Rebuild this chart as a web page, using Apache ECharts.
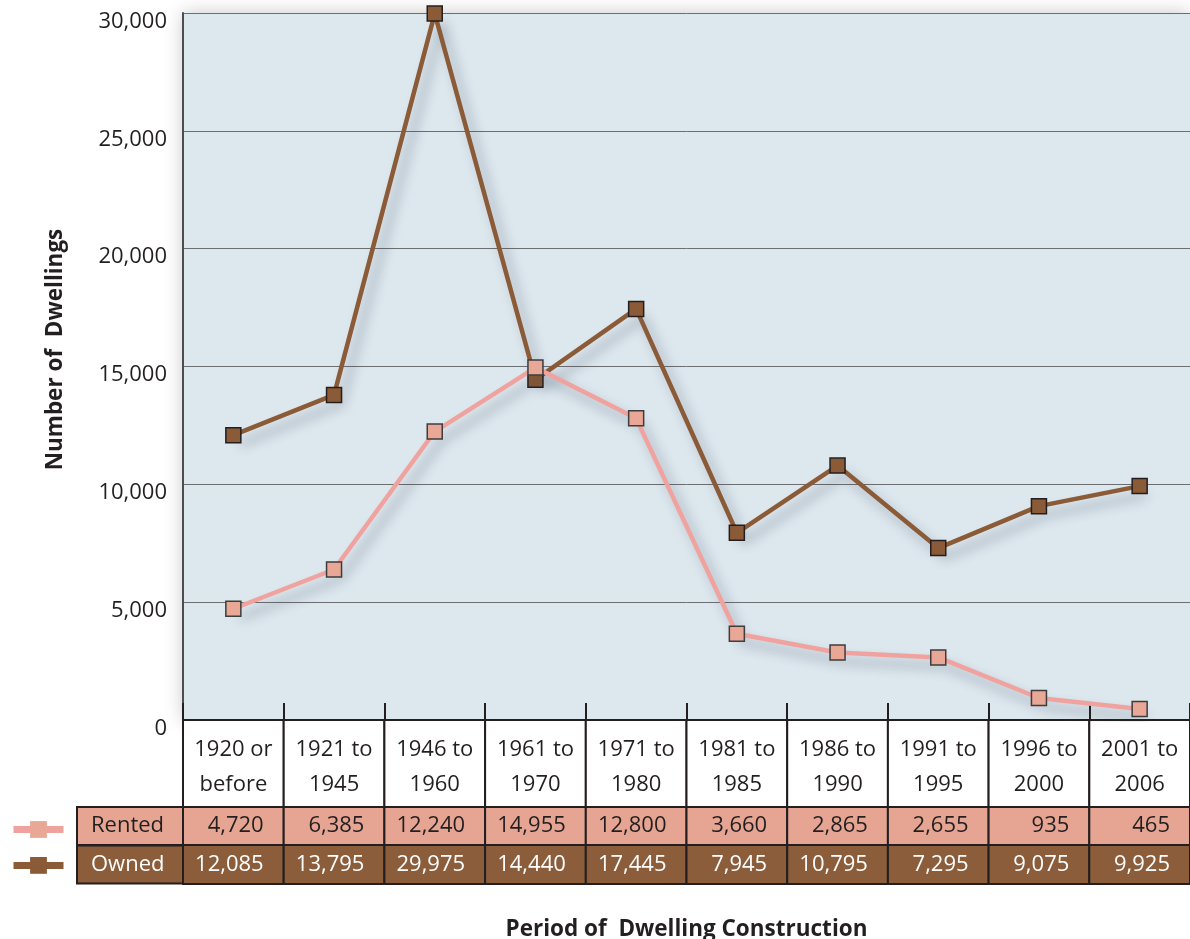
<!DOCTYPE html>
<html><head><meta charset="utf-8">
<script src="https://cdn.jsdelivr.net/npm/echarts@6/dist/echarts.min.js"></script>
<style>html,body{margin:0;padding:0;background:#fff}#c{width:1190px;height:939px}</style>
</head><body><div id="c"></div>
<script>
const categories = ['1920 or\nbefore','1921 to\n1945','1946 to\n1960','1961 to\n1970','1971 to\n1980','1981 to\n1985','1986 to\n1990','1991 to\n1995','1996 to\n2000','2001 to\n2006'];
const rented = [4720, 6385, 12240, 14955, 12800, 3660, 2865, 2655, 935, 465];
const owned = [12085, 13795, 29975, 14440, 17445, 7945, 10795, 7295, 9075, 9925];
const rowLabels = ['Rented', 'Owned'];
const yMin = 0, yMax = 30000, yInterval = 5000;

const FONT = "'Open Sans', sans-serif";
const DARK = '#231f20';
const C_OWN = '#8b5a37';
const C_OWN_ROW = '#8b5d3b';
const C_RENT_LINE = '#f0a39e';
const C_RENT_MARK = '#e9a796';
const C_RENT_ROW = '#e6a593';
const fmt = v => Number(v).toLocaleString('en-US');

function cellRenderer(fill, textColor, isHeader) {
  return function (params, api) {
    const i = api.value(0);
    const c = api.coord([i, 0]);
    const bw = api.size([1, 0])[0];
    const cs = params.coordSys;
    const x0 = c[0] - bw / 2;
    const children = [{
      type: 'rect',
      shape: { x: x0, y: cs.y, width: bw, height: cs.height },
      style: { fill: fill, stroke: DARK, lineWidth: 2 }
    }];
    if (isHeader) {
      children.push({
        type: 'text', x: c[0], y: cs.y + cs.height / 2 + 4,
        style: { text: categories[i], fill: textColor, font: '22px ' + FONT, align: 'center', verticalAlign: 'middle', lineHeight: 35 }
      });
    } else {
      children.push({
        type: 'text', x: x0 + bw - 20, y: cs.y + cs.height / 2,
        style: { text: fmt(api.value(2)), fill: textColor, font: '22px ' + FONT, align: 'right', verticalAlign: 'middle' }
      });
    }
    return { type: 'group', children: children };
  };
}

const lineShadow = { shadowColor: 'rgba(30,50,70,0.35)', shadowBlur: 12, shadowOffsetX: 7, shadowOffsetY: 9 };

const rowLabelStyle = (bg, color) => ({
  margin: 105, align: 'left', verticalAlign: 'middle', padding: [0, 0, 0, 13],
  width: 92, height: 36, lineHeight: 36, backgroundColor: bg, borderColor: DARK, borderWidth: 2,
  fontSize: 22, fontFamily: FONT, color: color
});

const gridBase = { left: 183, right: 0, outerBoundsMode: 'none', containLabel: false };

const chart = echarts.init(document.getElementById('c'));
chart.setOption({
  animation: false,
  textStyle: { fontFamily: FONT },
  grid: [
    Object.assign({}, gridBase, { top: 13, height: 707, show: true, backgroundColor: '#dde7ee', borderWidth: 0, shadowBlur: 18, shadowColor: 'rgba(0,0,0,0.22)' }),
    Object.assign({}, gridBase, { top: 720, height: 87 }),
    Object.assign({}, gridBase, { top: 807, height: 38 }),
    Object.assign({}, gridBase, { top: 845, height: 39 })
  ],
  legend: {
    data: rowLabels, orient: 'vertical', left: 10, top: 819, padding: 0, itemWidth: 50, itemHeight: 21, itemGap: 17,
    selectedMode: false, formatter: () => '', textStyle: { fontSize: 1 },
    itemStyle: { borderWidth: 0, shadowBlur: 0, shadowColor: 'rgba(0,0,0,0)' },
    lineStyle: { width: 7, shadowBlur: 0, shadowColor: 'rgba(0,0,0,0)' }
  },
  xAxis: [
    {
      gridIndex: 0, type: 'category', data: categories, boundaryGap: true,
      axisLine: { lineStyle: { color: DARK, width: 2 } },
      axisTick: { show: true, inside: true, length: 17, interval: 0, lineStyle: { color: DARK, width: 2 } },
      axisLabel: { show: false }, splitLine: { show: false },
      name: 'Period of  Dwelling Construction', nameLocation: 'middle', nameGap: 198,
      nameTextStyle: { fontWeight: 'bold', fontSize: 22.5, color: DARK, fontFamily: FONT }
    },
    { gridIndex: 1, type: 'category', data: categories, show: false },
    { gridIndex: 2, type: 'category', data: categories, show: false },
    { gridIndex: 3, type: 'category', data: categories, show: false }
  ],
  yAxis: [
    {
      gridIndex: 0, type: 'value', min: yMin, max: yMax, interval: yInterval,
      axisLine: { show: true, lineStyle: { color: '#4d4d4f', width: 2 } },
      axisTick: { show: false },
      splitLine: { show: true, lineStyle: { color: '#6d6e71', width: 1 } },
      axisLabel: { formatter: fmt, fontSize: 22, color: DARK, margin: 16, verticalAlign: 'top', lineHeight: 17, fontFamily: FONT },
      name: 'Number of  Dwellings', nameLocation: 'middle', nameGap: 116, nameRotate: 90,
      nameTextStyle: { fontWeight: 'bold', fontSize: 22.5, color: DARK, fontFamily: FONT, padding: [0, 0, 0, 34] }
    },
    { gridIndex: 1, type: 'category', data: [''], show: false },
    { gridIndex: 2, type: 'category', data: [rowLabels[0]], axisLine: { show: false }, axisTick: { show: false }, axisLabel: rowLabelStyle(C_RENT_ROW, DARK) },
    { gridIndex: 3, type: 'category', data: [rowLabels[1]], axisLine: { show: false }, axisTick: { show: false }, axisLabel: rowLabelStyle(C_OWN_ROW, '#ffffff') }
  ],
  series: [
    {
      name: 'Owned', type: 'line', xAxisIndex: 0, yAxisIndex: 0, data: owned,
      symbol: 'rect', symbolSize: 15, z: 3,
      lineStyle: Object.assign({ color: C_OWN, width: 4.5 }, lineShadow),
      itemStyle: { color: C_OWN, borderColor: DARK, borderWidth: 1.5 },
      emphasis: { disabled: true }
    },
    {
      name: 'Rented', type: 'line', xAxisIndex: 0, yAxisIndex: 0, data: rented,
      symbol: 'rect', symbolSize: 15, z: 4,
      lineStyle: Object.assign({ color: C_RENT_LINE, width: 4.5 }, lineShadow),
      itemStyle: { color: C_RENT_MARK, borderColor: '#3d3d3f', borderWidth: 1.5 },
      emphasis: { disabled: true }
    },
    {
      name: '__hdr', type: 'custom', xAxisIndex: 1, yAxisIndex: 1, silent: true,
      data: categories.map((c, i) => [i, 0]), encode: { x: 0, y: 1 },
      renderItem: cellRenderer('#ffffff', DARK, true)
    },
    {
      name: '__rent', type: 'custom', xAxisIndex: 2, yAxisIndex: 2, silent: true,
      data: rented.map((v, i) => [i, 0, v]), encode: { x: 0, y: 1 },
      renderItem: cellRenderer(C_RENT_ROW, DARK, false)
    },
    {
      name: '__own', type: 'custom', xAxisIndex: 3, yAxisIndex: 3, silent: true,
      data: owned.map((v, i) => [i, 0, v]), encode: { x: 0, y: 1 },
      renderItem: cellRenderer(C_OWN_ROW, '#ffffff', false)
    }
  ]
});
</script>
</body></html>
